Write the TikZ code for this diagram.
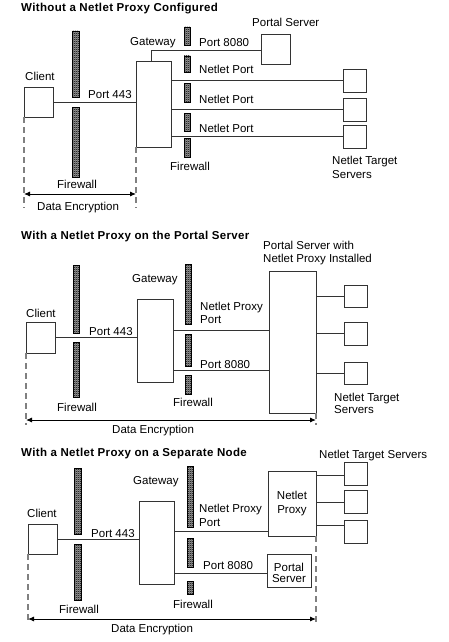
\documentclass[tikz,border=0pt]{standalone}
\usepackage{fontspec}
\setmainfont{Liberation Sans}
\newfontfamily\ttlfont[LetterSpace=3]{Liberation Sans}
\usetikzlibrary{arrows.meta,patterns}
\pgfdeclarepatternformonly{finecheck}{\pgfpointorigin}{\pgfpoint{2pt}{2pt}}{\pgfpoint{2pt}{2pt}}{%
  \pgfpathrectangle{\pgfpointorigin}{\pgfpoint{1pt}{1pt}}%
  \pgfpathrectangle{\pgfpoint{1pt}{1pt}}{\pgfpoint{1pt}{1pt}}%
  \pgfusepath{fill}}
\tikzset{
  box/.style={draw=black!80, line width=1pt, inner sep=0pt, outer sep=0pt, anchor=north west},
  sz/.style 2 args={minimum width=#1, minimum height=#2},
  txt/.style={font=\fontsize{11.5}{13}\selectfont, inner sep=0pt, anchor=base west},
  ctxt/.style={font=\fontsize{11.5}{13}\selectfont, inner sep=0pt, anchor=base},
  ttl/.style={font=\ttlfont\bfseries\fontsize{11.5}{13}\selectfont, inner sep=0pt, anchor=base west},
  link/.style={draw=black!80, line width=0.9pt},
  fw/.style={draw=black, line width=0.6pt, preaction={fill=black!40}, pattern=finecheck},
  encl/.style={draw=gray, line width=1.2pt, dash pattern=on 6pt off 4pt},
  enc/.style={draw=black, line width=0.9pt, {Latex[length=6pt,width=5pt]}-{Latex[length=6pt,width=5pt]}}
}
\begin{document}
\begin{tikzpicture}[x=1pt,y=-1pt]
\useasboundingbox (0,0) rectangle (449,642);
\fill[white] (0,0) rectangle (449,642);

% ================= Section 1 =================
\node[ttl] (t1) at (21,12) {Without a Netlet Proxy Configured};
\node[box, sz={29pt}{30pt}] (c1) at (24,87) {};
\node[txt] (c1l) at (25,80) {Client};
\node[box, sz={35pt}{85pt}] (g1) at (136,62) {};
\node[txt] (g1l) at (130,46) {Gateway};
\node[box, sz={29pt}{30pt}] (ps1) at (261,35) {};
\node[txt] (ps1l) at (252,27) {Portal Server};
\node[box, sz={23pt}{23pt}] (t11) at (343,69) {};
\node[box, sz={23pt}{23pt}] (t12) at (343,98) {};
\node[box, sz={23pt}{23pt}] (t13) at (343,125) {};
\node[txt] (p4431) at (88,98) {Port 443};
\node[txt] (p80801) at (199,47) {Port 8080};
\node[txt] (np11) at (199,74) {Netlet Port};
\node[txt] (np12) at (199,103) {Netlet Port};
\node[txt] (np13) at (199,132) {Netlet Port};
\node[txt] (fw1l) at (57,188) {Firewall};
\node[txt] (fw1r) at (170,170) {Firewall};
\node[txt] (de1) at (37,210) {Data Encryption};
\node[txt] (nts1a) at (332,164) {Netlet Target};
\node[txt] (nts1b) at (332,178) {Servers};
% firewalls
\path[fw] (72,31) rectangle (79,97);
\path[fw] (72,107) rectangle (79,177);
\path[fw] (184,27) rectangle (190,45);
\path[fw] (184,56) rectangle (190,72);
\path[fw] (184,83) rectangle (190,102);
\path[fw] (184,113) rectangle (190,131);
\path[fw] (184,138) rectangle (190,157);
% connectors
\draw[link] (c1.east) -- (c1.east -| g1.west);
\coordinate (g1top) at (151,62);
\draw[link] (g1top) |- (ps1.west);
\draw[link] (t11.west) -- (t11.west -| g1.east);
\draw[link] (t12.west) -- (t12.west -| g1.east);
\draw[link] (t13.west) -- (t13.west -| g1.east);
% encryption
\coordinate (e1l) at (24,208);
\coordinate (e1r) at (136,208);
\draw[encl] (c1.south west) -- (e1l);
\draw[encl] (g1.south west) -- (e1r);
\coordinate (a1l) at (24,194);
\coordinate (a1r) at (136,194);
\draw[enc] (a1l) -- (a1r);

% ================= Section 2 =================
\node[ttl] (t2) at (21,239) {With a Netlet Proxy on the Portal Server};
\node[box, sz={29pt}{31pt}] (c2) at (26,322) {};
\node[txt] (c2l) at (26,317) {Client};
\node[box, sz={36pt}{83pt}] (g2) at (137,299) {};
\node[txt] (g2l) at (132,282) {Gateway};
\node[box, sz={47pt}{142pt}] (ps2) at (269,271) {};
\node[txt] (ps2la) at (263,249) {Portal Server with};
\node[txt] (ps2lb) at (263,262) {Netlet Proxy Installed};
\node[box, sz={23pt}{22pt}] (t21) at (344,285) {};
\node[box, sz={23pt}{23pt}] (t22) at (344,322) {};
\node[box, sz={23pt}{22pt}] (t23) at (344,362) {};
\node[txt] (p4432) at (89,335) {Port 443};
\node[txt] (npp2a) at (200,310) {Netlet Proxy};
\node[txt] (npp2b) at (200,323) {Port};
\node[txt] (p80802) at (200,368) {Port 8080};
\node[txt] (fw2l) at (57,411) {Firewall};
\node[txt] (fw2r) at (173,406) {Firewall};
\node[txt] (de2) at (112,433) {Data Encryption};
\node[txt] (nts2a) at (334,401) {Netlet Target};
\node[txt] (nts2b) at (334,413) {Servers};
% firewalls
\path[fw] (73,265) rectangle (79,333);
\path[fw] (73,342) rectangle (79,397);
\path[fw] (185,264) rectangle (191,324);
\path[fw] (185,334) rectangle (191,366);
\path[fw] (185,375) rectangle (191,394);
% connectors
\draw[link] (c2.east) -- (c2.east -| g2.west);
\coordinate (l2p) at (173,330);
\coordinate (l2q) at (173,370);
\draw[link] (l2p) -- (l2p -| ps2.west);
\draw[link] (l2q) -- (l2q -| ps2.west);
\draw[link] (t21.west) -- (t21.west -| ps2.east);
\draw[link] (t22.west) -- (t22.west -| ps2.east);
\draw[link] (t23.west) -- (t23.west -| ps2.east);
% encryption
\coordinate (e2l) at (26,425);
\coordinate (e2r) at (316,425);
\draw[encl] (c2.south west) -- (e2l);
\draw[encl] (ps2.south east) -- (e2r);
\coordinate (a2l) at (26,420);
\coordinate (a2r) at (316,420);
\draw[enc] (a2l) -- (a2r);

% ================= Section 3 =================
\node[ttl] (t3) at (21,456) {With a Netlet Proxy on a Separate Node};
\node[box, sz={29pt}{30pt}] (c3) at (28,524) {};
\node[txt] (c3l) at (27,517) {Client};
\node[box, sz={35pt}{83pt}] (g3) at (139,501) {};
\node[txt] (g3l) at (133,484) {Gateway};
\node[box, sz={48pt}{65pt}] (np3) at (268,471) {};
\node[ctxt] (np3a) at (292,499) {Netlet};
\node[ctxt] (np3b) at (292,513) {Proxy};
\node[box, sz={44pt}{33pt}] (pss3) at (267,554) {};
\node[ctxt] (pss3a) at (289,571) {Portal};
\node[ctxt] (pss3b) at (289,582) {Server};
\node[box, sz={23pt}{23pt}] (t31) at (344,462) {};
\node[box, sz={23pt}{23pt}] (t32) at (344,490) {};
\node[box, sz={23pt}{23pt}] (t33) at (344,520) {};
\node[txt] (nts3) at (319,458) {Netlet Target Servers};
\node[txt] (p4433) at (91,537) {Port 443};
\node[txt] (npp3a) at (199,512) {Netlet Proxy};
\node[txt] (npp3b) at (199,526) {Port};
\node[txt] (p80803) at (203,569) {Port 8080};
\node[txt] (fw3l) at (59,613) {Firewall};
\node[txt] (fw3r) at (173,608) {Firewall};
\node[txt] (de3) at (111,632) {Data Encryption};
% firewalls
\path[fw] (74,468) rectangle (81,534);
\path[fw] (74,544) rectangle (81,600);
\path[fw] (187,466) rectangle (193,527);
\path[fw] (187,538) rectangle (193,567);
\path[fw] (187,581) rectangle (193,594);
% connectors
\draw[link] (c3.east) -- (c3.east -| g3.west);
\coordinate (l3p) at (174,531);
\coordinate (l3q) at (174,573);
\draw[link] (l3p) -- (l3p -| np3.west);
\draw[link] (l3q) -- (l3q -| pss3.west);
\coordinate (l3a) at (316,475);
\coordinate (l3b) at (316,502);
\coordinate (l3c) at (316,525);
\draw[link] (l3a) -- (l3a -| t31.west);
\draw[link] (l3b) -- (l3b -| t32.west);
\draw[link] (l3c) -- (l3c -| t33.west);
% encryption
\coordinate (e3l) at (28,623);
\coordinate (e3r) at (316,623);
\draw[encl] (c3.south west) -- (e3l);
\draw[encl] (np3.south east) -- (e3r);
\coordinate (a3l) at (28,619);
\coordinate (a3r) at (316,619);
\draw[enc] (a3l) -- (a3r);
\end{tikzpicture}
\end{document}
